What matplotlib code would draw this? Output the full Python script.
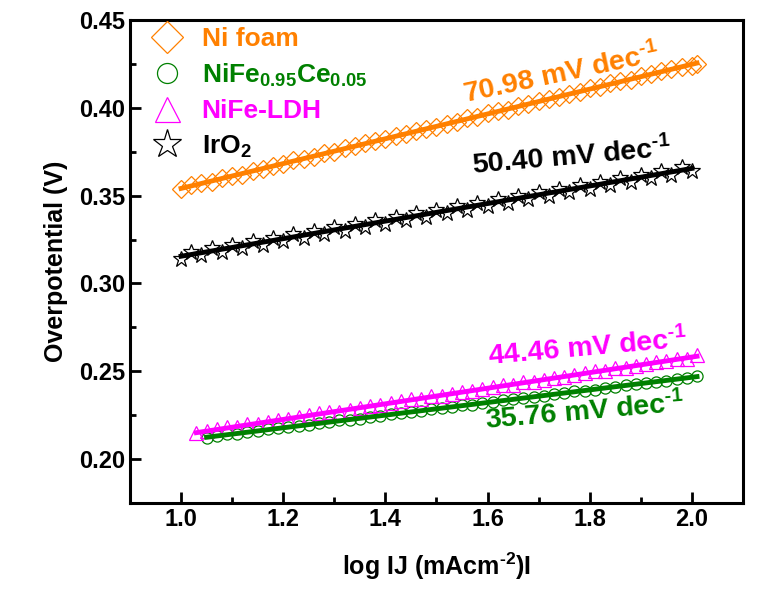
import matplotlib
matplotlib.use("Agg")
import matplotlib.pyplot as plt
import numpy as np

plt.rcParams['font.family'] = ['Liberation Sans', 'DejaVu Sans']
plt.rcParams['font.weight'] = 'bold'
plt.rcParams['mathtext.fontset'] = 'custom'
plt.rcParams['mathtext.rm'] = 'Liberation Sans:bold'
plt.rcParams['mathtext.bf'] = 'Liberation Sans:bold'
plt.rcParams['mathtext.it'] = 'Liberation Sans:bold'
plt.rcParams['mathtext.default'] = 'bf'

# Tafel data (log j, overpotential)
x_ni = [1.00, 1.02, 1.04, 1.06, 1.08, 1.10, 1.12, 1.14, 1.16, 1.18, 1.20, 1.22, 1.24, 1.26,
        1.28, 1.30, 1.32, 1.34, 1.36, 1.38, 1.40, 1.42, 1.44, 1.46, 1.48, 1.50, 1.52, 1.54,
        1.56, 1.58, 1.60, 1.62, 1.64, 1.66, 1.68, 1.70, 1.72, 1.74, 1.76, 1.78, 1.80, 1.82,
        1.84, 1.86, 1.88, 1.90, 1.92, 1.94, 1.96, 1.98, 2.00, 2.01]
y_ni = [0.354, 0.356, 0.357, 0.358, 0.360, 0.361, 0.362, 0.364, 0.365, 0.367, 0.368, 0.370,
        0.371, 0.372, 0.374, 0.375, 0.377, 0.378, 0.380, 0.381, 0.382, 0.384, 0.385, 0.387,
        0.388, 0.389, 0.391, 0.392, 0.394, 0.395, 0.397, 0.398, 0.399, 0.401, 0.402, 0.404,
        0.405, 0.406, 0.408, 0.409, 0.411, 0.412, 0.414, 0.415, 0.416, 0.418, 0.419, 0.421,
        0.422, 0.423, 0.424, 0.425]

x_ir = [1.00, 1.02, 1.04, 1.06, 1.08, 1.10, 1.12, 1.14, 1.16, 1.18, 1.20, 1.22, 1.24, 1.26,
        1.28, 1.30, 1.32, 1.34, 1.36, 1.38, 1.40, 1.42, 1.44, 1.46, 1.48, 1.50, 1.52, 1.54,
        1.56, 1.58, 1.60, 1.62, 1.64, 1.66, 1.68, 1.70, 1.72, 1.74, 1.76, 1.78, 1.80, 1.82,
        1.84, 1.86, 1.88, 1.90, 1.92, 1.94, 1.96, 1.98, 2.00]
y_ir = [0.314, 0.318, 0.316, 0.320, 0.318, 0.322, 0.320, 0.324, 0.322, 0.326, 0.324, 0.328,
        0.326, 0.330, 0.328, 0.332, 0.330, 0.334, 0.332, 0.336, 0.334, 0.338, 0.336, 0.340,
        0.338, 0.342, 0.340, 0.344, 0.342, 0.346, 0.344, 0.348, 0.346, 0.350, 0.348, 0.352,
        0.350, 0.354, 0.352, 0.356, 0.354, 0.358, 0.356, 0.360, 0.358, 0.362, 0.360, 0.364,
        0.362, 0.366, 0.364]

x_ldh = [1.03, 1.05, 1.07, 1.09, 1.11, 1.13, 1.15, 1.17, 1.19, 1.21, 1.23, 1.25, 1.27, 1.29,
         1.31, 1.33, 1.35, 1.37, 1.39, 1.41, 1.43, 1.45, 1.47, 1.49, 1.51, 1.53, 1.55, 1.57,
         1.59, 1.61, 1.63, 1.65, 1.67, 1.69, 1.71, 1.73, 1.75, 1.77, 1.79, 1.81, 1.83, 1.85,
         1.87, 1.89, 1.91, 1.93, 1.95, 1.97, 1.99, 2.01]
y_ldh = [0.215, 0.216, 0.217, 0.218, 0.218, 0.220, 0.220, 0.221, 0.222, 0.223,
         0.224, 0.225, 0.226, 0.227, 0.227, 0.228, 0.229, 0.230, 0.231, 0.232,
         0.233, 0.234, 0.234, 0.236, 0.236, 0.237, 0.238, 0.239, 0.240, 0.241,
         0.242, 0.242, 0.244, 0.244, 0.245, 0.246, 0.247, 0.248, 0.249, 0.250,
         0.250, 0.252, 0.252, 0.253, 0.254, 0.255, 0.256, 0.257, 0.257, 0.259]

x_ce = [1.05, 1.07, 1.09, 1.11, 1.13, 1.15, 1.17, 1.19, 1.21, 1.23, 1.25, 1.27, 1.29, 1.31,
        1.33, 1.35, 1.37, 1.39, 1.41, 1.43, 1.45, 1.47, 1.49, 1.51, 1.53, 1.55, 1.57, 1.59,
        1.61, 1.63, 1.65, 1.67, 1.69, 1.71, 1.73, 1.75, 1.77, 1.79, 1.81, 1.83, 1.85, 1.87,
        1.89, 1.91, 1.93, 1.95, 1.97, 1.99, 2.01]
y_ce = [0.2120, 0.2130, 0.2140, 0.2145, 0.2155, 0.2160, 0.2170, 0.2175, 0.2180, 0.2190,
        0.2195, 0.2205, 0.2210, 0.2220, 0.2225, 0.2230, 0.2240, 0.2245, 0.2255, 0.2260,
        0.2270, 0.2275, 0.2285, 0.2290, 0.2295, 0.2305, 0.2310, 0.2320, 0.2325, 0.2335,
        0.2340, 0.2345, 0.2355, 0.2360, 0.2370, 0.2375, 0.2385, 0.2390, 0.2395, 0.2405,
        0.2410, 0.2420, 0.2425, 0.2435, 0.2440, 0.2445, 0.2455, 0.2460, 0.2475]

labels = ['Ni foam', r'NiFe$_{0.95}$Ce$_{0.05}$', 'NiFe-LDH', r'IrO$_{2}$']
colors = ['#FF8000', '#008000', '#FF00FF', 'black']
markers = ['D', 'o', '^', '*']
msizes = [9, 8, 10, 12]
xs = [x_ni, x_ce, x_ldh, x_ir]
ys = [y_ni, y_ce, y_ldh, y_ir]

fig = plt.figure(figsize=(7.57, 6.01), dpi=100)
ax = fig.add_axes([0.1717, 0.1631, 0.8098, 0.8037])

handles = []
for x, y, c, m, ms, lab in zip(xs, ys, colors, markers, msizes, labels):
    h, = ax.plot(x, y, ls='none', marker=m, ms=ms, mfc='none', mec=c, mew=0.9, label=lab)
    handles.append(h)
    k, b = np.polyfit(x, y, 1)   # linear Tafel fit
    xx = np.array([x[0], x[-1]])
    ax.plot(xx, k * xx + b, color=c, lw=3.5, zorder=5)

# slope annotations
ax.text(1.745, 0.419, r'70.98 mV dec$^{\text{-1}}$', color=colors[0], fontsize=20.5,
        ha='center', va='center', rotation=12)
ax.text(1.765, 0.372, r'50.40 mV dec$^{\text{-1}}$', color='black', fontsize=20.5,
        ha='center', va='center', rotation=5)
ax.text(1.795, 0.2635, r'44.46 mV dec$^{\text{-1}}$', color=colors[2], fontsize=20.5,
        ha='center', va='center', rotation=5)
ax.text(1.79, 0.2265, r'35.76 mV dec$^{\text{-1}}$', color=colors[1], fontsize=20.5,
        ha='center', va='center', rotation=5)

leg = ax.legend(handles=handles, loc='upper left', bbox_to_anchor=(-0.01, 1.035), frameon=False,
                fontsize=19, markerscale=1.8, handletextpad=0.55, labelspacing=0.4,
                handlelength=1.5)
for t, c in zip(leg.get_texts(), colors):
    t.set_color(c)

ax.set_xlim(0.9, 2.1)
ax.set_ylim(0.175, 0.45)
ax.set_xticks([1.0, 1.2, 1.4, 1.6, 1.8, 2.0])
ax.set_xticks([1.1, 1.3, 1.5, 1.7, 1.9], minor=True)
ax.set_yticks([0.20, 0.25, 0.30, 0.35, 0.40, 0.45])
ax.set_yticks([0.225, 0.275, 0.325, 0.375, 0.425], minor=True)
ax.tick_params(which='both', direction='in', width=2, top=False, right=False,
               labelsize=17)
ax.tick_params(which='major', length=8)
ax.tick_params(which='minor', length=4)
for s in ax.spines.values():
    s.set_linewidth(2.2)

ax.set_xlabel(r'log IJ (mAcm$^{\text{-2}}$)I', fontsize=18, fontweight='bold', labelpad=14)
ax.set_ylabel('Overpotential (V)', fontsize=18, fontweight='bold', labelpad=8)

fig.savefig('out.png', dpi=100)
